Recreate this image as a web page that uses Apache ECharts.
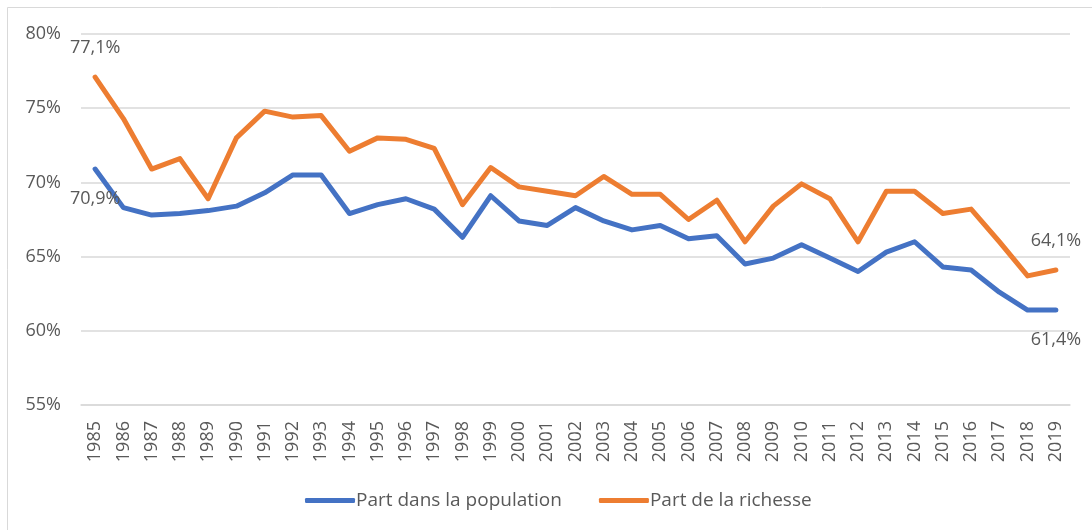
<!DOCTYPE html>
<html>
<head>
<meta charset="utf-8">
<script src="https://cdn.jsdelivr.net/npm/echarts@6/dist/echarts.min.js"></script>
<style>
  html, body { margin: 0; padding: 0; background: #fff; }
  #main { width: 1092px; height: 530px; }
</style>
</head>
<body>
<div id="main"></div>
<script>
// years on the x axis
var years = ['1985', '1986', '1987', '1988', '1989', '1990', '1991', '1992', '1993', '1994',
  '1995', '1996', '1997', '1998', '1999', '2000', '2001', '2002', '2003', '2004',
  '2005', '2006', '2007', '2008', '2009', '2010', '2011', '2012', '2013', '2014',
  '2015', '2016', '2017', '2018', '2019'];

// Part dans la population (%)
var population = [70.9, 68.3, 67.8, 67.9, 68.1, 68.4, 69.3, 70.5, 70.5, 67.9,
  68.5, 68.9, 68.2, 66.3, 69.1, 67.4, 67.1, 68.3, 67.4, 66.8,
  67.1, 66.2, 66.4, 64.5, 64.9, 65.8, 64.9, 64.0, 65.3, 66.0,
  64.3, 64.1, 62.6, 61.4, 61.4];

// Part de la richesse (%)
var richesse = [77.1, 74.3, 70.9, 71.6, 68.9, 73.0, 74.8, 74.4, 74.5, 72.1,
  73.0, 72.9, 72.3, 68.5, 71.0, 69.7, 69.4, 69.1, 70.4, 69.2,
  69.2, 67.5, 68.8, 66.0, 68.4, 69.9, 68.9, 66.0, 69.4, 69.4,
  67.9, 68.2, 66.0, 63.7, 64.1];

var yTicks = { min: 55, max: 80, step: 5 };

var txt = '#595959';
var font = 'Open Sans';

// only first and last point carry a label
function withEndLabels(arr) {
  return arr.map(function (v, i) {
    if (i === 0 || i === arr.length - 1) {
      return { value: v, label: { show: true } };
    }
    return v;
  });
}

function pct(p) {
  return p.value.toFixed(1).replace('.', ',') + '%';
}

var myChart = echarts.init(document.getElementById('main'));

var option = {
  backgroundColor: '#FFFFFF',
  animation: false,
  textStyle: { fontFamily: font },
  graphic: [{
    type: 'rect',
    shape: { x: 7.5, y: 7.5, width: 1100, height: 540 },
    style: { fill: 'none', stroke: '#d9d9d9', lineWidth: 1 },
    silent: true
  }],
  grid: { left: 81, right: 22, top: 34, bottom: 125, containLabel: false },
  legend: {
    bottom: 15,
    left: 300,
    itemGap: 37,
    itemWidth: 50,
    itemHeight: 5,
    icon: 'roundRect',
    textStyle: { color: txt, fontSize: 19, fontFamily: font, padding: [0, 0, 0, -4] }
  },
  xAxis: {
    type: 'category',
    data: years,
    boundaryGap: true,
    axisLine: { lineStyle: { color: '#d9d9d9', width: 1.5 } },
    axisTick: { show: false },
    axisLabel: { interval: 0, rotate: 90, margin: 16, color: txt, fontSize: 18, fontFamily: font }
  },
  yAxis: {
    type: 'value',
    min: yTicks.min,
    max: yTicks.max,
    interval: yTicks.step,
    axisLine: { show: false },
    axisTick: { show: false },
    axisLabel: { formatter: '{value}%', margin: 20, color: txt, fontSize: 18, fontFamily: font },
    splitLine: { lineStyle: { color: '#d9d9d9', width: 1.5 } }
  },
  series: [{
    name: 'Part dans la population',
    type: 'line',
    data: withEndLabels(population),
    symbol: 'circle',
    symbolSize: 1,
    showSymbol: true,
    lineStyle: { color: '#4472C4', width: 5, join: 'round', cap: 'round' },
    itemStyle: { color: '#4472C4' },
    label: { show: false, position: 'bottom', distance: 20, formatter: pct, color: txt, fontSize: 18, fontFamily: font }
  }, {
    name: 'Part de la richesse',
    type: 'line',
    data: withEndLabels(richesse),
    symbol: 'circle',
    symbolSize: 1,
    showSymbol: true,
    lineStyle: { color: '#ED7D31', width: 5, join: 'round', cap: 'round' },
    itemStyle: { color: '#ED7D31' },
    label: { show: false, position: 'top', distance: 20, formatter: pct, color: txt, fontSize: 18, fontFamily: font }
  }]
};

myChart.setOption(option);
</script>
</body>
</html>
